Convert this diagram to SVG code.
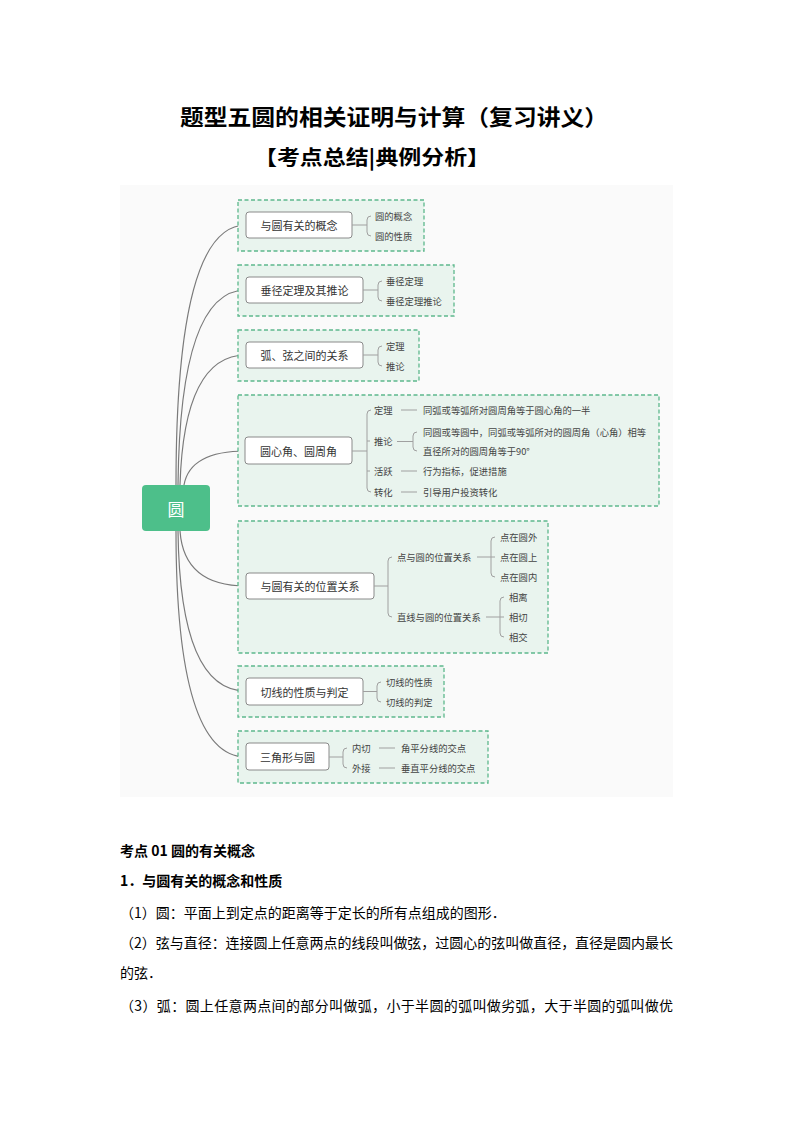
<svg xmlns="http://www.w3.org/2000/svg" width="794" height="1123" viewBox="0 0 794 1123">
<style>
text{font-family:"Noto Sans CJK SC","Liberation Sans",sans-serif;fill:#333}
.title{font-size:22px;font-weight:bold;fill:#000}
.sub{font-size:20px;font-weight:bold;fill:#000}
.body{font-size:14px;fill:#000}
.bold{font-weight:bold}
.grp{fill:#e9f4ee;stroke:#5db88d;stroke-width:1.3;stroke-dasharray:4 2.5}
.node{fill:#fff;stroke:#8a8a8a;stroke-width:1}
.nt{font-size:11px;fill:#333}
.it{font-size:9.3px;fill:#444}
.conn path{fill:none;stroke:#7a7a7a;stroke-width:1.2}
.br{fill:none;stroke:#a0a0a0;stroke-width:1}
</style>
<rect x="0" y="0" width="794" height="1123" fill="#fff"/>
<text class="title" x="180" y="125" textLength="428" lengthAdjust="spacingAndGlyphs">题型五圆的相关证明与计算（复习讲义）</text>
<text class="sub" x="254" y="165" textLength="236" lengthAdjust="spacingAndGlyphs">【考点总结|典例分析】</text>
<rect x="120" y="185" width="553" height="612" fill="#fafafa"/>

<g class="conn">
<path d="M176,485 Q176,225 246,225"/>
<path d="M178,485 Q180,290 246,290"/>
<path d="M180,485 Q184,355 246,355"/>
<path d="M184,485 Q190,451 246,451"/>
<path d="M180,531 Q184,586 246,586"/>
<path d="M178,531 Q180,691 246,691"/>
<path d="M176,531 Q176,757 246,757"/>
</g>

<g id="root">
<rect x="142" y="485" width="68" height="46" rx="4" fill="#4dbf8a"/>
<text x="176" y="508" font-size="17" text-anchor="middle" dominant-baseline="central" style="fill:#fff">圆</text>
</g>

<g id="g1">
<rect class="grp" x="238" y="200" width="186" height="51"/>
<rect class="node" x="246" y="212" width="106" height="26" rx="3"/>
<text class="nt" x="299" y="225" text-anchor="middle" dominant-baseline="central">与圆有关的概念</text>
<path class="br" d="M352,225 H367 M371,216 Q367,216 367,220 V232 Q367,236 371,236"/>
<text class="it" x="375" y="216" dominant-baseline="central">圆的概念</text>
<text class="it" x="375" y="236" dominant-baseline="central">圆的性质</text>
</g>

<g id="g2">
<rect class="grp" x="238" y="265" width="216" height="51"/>
<rect class="node" x="246" y="277" width="117" height="26" rx="3"/>
<text class="nt" x="304.5" y="290" text-anchor="middle" dominant-baseline="central">垂径定理及其推论</text>
<path class="br" d="M363,290 H378 M382,281 Q378,281 378,285 V297 Q378,301 382,301"/>
<text class="it" x="386" y="281" dominant-baseline="central">垂径定理</text>
<text class="it" x="386" y="301" dominant-baseline="central">垂径定理推论</text>
</g>

<g id="g3">
<rect class="grp" x="238" y="330" width="181" height="51"/>
<rect class="node" x="246" y="342" width="117" height="26" rx="3"/>
<text class="nt" x="304.5" y="355" text-anchor="middle" dominant-baseline="central">弧、弦之间的关系</text>
<path class="br" d="M363,355 H378 M382,346 Q378,346 378,350 V362 Q378,366 382,366"/>
<text class="it" x="386" y="346" dominant-baseline="central">定理</text>
<text class="it" x="386" y="366" dominant-baseline="central">推论</text>
</g>

<g id="g4">
<rect class="grp" x="238" y="395" width="421" height="111"/>
<rect class="node" x="245" y="437" width="107" height="27" rx="3"/>
<text class="nt" x="298.5" y="451" text-anchor="middle" dominant-baseline="central">圆心角、圆周角</text>
<path class="br" d="M352,451 H367 M371,410 Q367,410 367,414 V488 Q367,492 371,492 M367,441 H370 M367,471 H370"/>
<text class="it" x="374" y="410" dominant-baseline="central">定理</text>
<text class="it" x="374" y="441" dominant-baseline="central">推论</text>
<text class="it" x="374" y="471" dominant-baseline="central">活跃</text>
<text class="it" x="374" y="492" dominant-baseline="central">转化</text>
<path class="br" d="M401,410 H417 M401,471 H417 M401,492 H417 M397,441.5 H413 M417,432 Q413,432 413,436 V447 Q413,451 417,451"/>
<text class="it" x="423" y="410" dominant-baseline="central">同弧或等弧所对圆周角等于圆心角的一半</text>
<text class="it" x="423" y="432" dominant-baseline="central">同圆或等圆中，同弧或等弧所对的圆周角（心角）相等</text>
<text class="it" x="423" y="451" dominant-baseline="central">直径所对的圆周角等于90°</text>
<text class="it" x="423" y="471" dominant-baseline="central">行为指标，促进措施</text>
<text class="it" x="423" y="492" dominant-baseline="central">引导用户投资转化</text>
</g>

<g id="g5">
<rect class="grp" x="238" y="521" width="310" height="132"/>
<rect class="node" x="246" y="573" width="128" height="26" rx="3"/>
<text class="nt" x="310" y="586" text-anchor="middle" dominant-baseline="central">与圆有关的位置关系</text>
<path class="br" d="M374,586 H388 M392,557 Q388,557 388,561 V613 Q388,617 392,617"/>
<text class="it" x="397" y="557" dominant-baseline="central">点与圆的位置关系</text>
<text class="it" x="397" y="617" dominant-baseline="central">直线与圆的位置关系</text>
<path class="br" d="M477,557 H491 M495,537 Q491,537 491,541 V573 Q491,577 495,577 M491,557 H495"/>
<text class="it" x="500" y="537" dominant-baseline="central">点在圆外</text>
<text class="it" x="500" y="557" dominant-baseline="central">点在圆上</text>
<text class="it" x="500" y="577" dominant-baseline="central">点在圆内</text>
<path class="br" d="M486,617 H500 M504,597 Q500,597 500,601 V633 Q500,637 504,637 M500,617 H504"/>
<text class="it" x="509" y="597" dominant-baseline="central">相离</text>
<text class="it" x="509" y="617" dominant-baseline="central">相切</text>
<text class="it" x="509" y="637" dominant-baseline="central">相交</text>
</g>

<g id="g6">
<rect class="grp" x="238" y="666" width="206" height="51"/>
<rect class="node" x="246" y="678" width="117" height="27" rx="3"/>
<text class="nt" x="304.5" y="691.5" text-anchor="middle" dominant-baseline="central">切线的性质与判定</text>
<path class="br" d="M363,691.5 H377 M381,682 Q377,682 377,686 V698 Q377,702 381,702"/>
<text class="it" x="386" y="682" dominant-baseline="central">切线的性质</text>
<text class="it" x="386" y="702" dominant-baseline="central">切线的判定</text>
</g>

<g id="g7">
<rect class="grp" x="238" y="731" width="250" height="52"/>
<rect class="node" x="246" y="743" width="83" height="27" rx="3"/>
<text class="nt" x="287.5" y="756.5" text-anchor="middle" dominant-baseline="central">三角形与圆</text>
<path class="br" d="M329,757 H343 M347,748 Q343,748 343,752 V764 Q343,768 347,768"/>
<text class="it" x="352" y="748" dominant-baseline="central">内切</text>
<text class="it" x="352" y="768" dominant-baseline="central">外接</text>
<path class="br" d="M379,748 H395 M379,768 H395"/>
<text class="it" x="401" y="748" dominant-baseline="central">角平分线的交点</text>
<text class="it" x="401" y="768" dominant-baseline="central">垂直平分线的交点</text>
</g>

<text class="body bold" x="120" y="856">考点 01 圆的有关概念</text>
<text class="body bold" x="120" y="886">1．与圆有关的概念和性质</text>
<text class="body" x="120" y="918">（1）圆：平面上到定点的距离等于定长的所有点组成的图形．</text>
<text class="body" x="120" y="948" textLength="553" lengthAdjust="spacing">（2）弦与直径：连接圆上任意两点的线段叫做弦，过圆心的弦叫做直径，直径是圆内最长</text>
<text class="body" x="120" y="978">的弦．</text>
<text class="body" x="120" y="1011" textLength="553" lengthAdjust="spacing">（3）弧：圆上任意两点间的部分叫做弧，小于半圆的弧叫做劣弧，大于半圆的弧叫做优</text>
</svg>
